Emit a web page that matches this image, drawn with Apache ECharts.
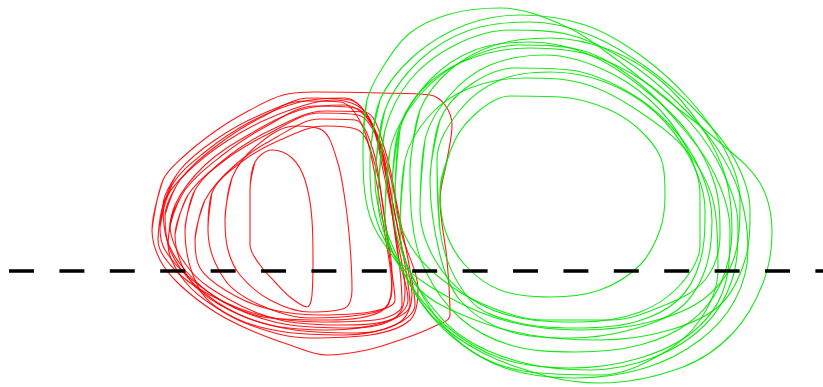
<!DOCTYPE html>
<html>
<head>
<meta charset="utf-8">
<script src="https://cdn.jsdelivr.net/npm/echarts@6/dist/echarts.min.js"></script>
<style>
html,body{margin:0;padding:0;background:#fff;}
#chart{width:823px;height:387px;}
</style>
</head>
<body>
<div id="chart"></div>
<script>
// Reference line (dashed)
const baseline = [[9, 271], [823, 271]];

// Red contours (x, y in picture units; y grows downward)
const redOuter = [[152,230],[163,180],[183,157],[217,130],[250,110],[283,95],[315,92],[380,93],[430,95],[445,105],[452,125],[447,160],[440,200],[447,260],[450,315],[433,327],[400,340],[367,350],[327,355],[290,345],[250,330],[215,312],[180,285],[160,260]];
const red1 = [[160,228],[172,185],[205,152],[250,122],[300,102],[345,98],[370,120],[383,170],[395,230],[405,290],[395,318],[350,328],[290,325],[235,308],[190,278],[165,250]];
const red2 = [[165,215],[180,180],[215,147],[260,118],[310,98],[350,100],[375,130],[388,180],[400,240],[412,295],[400,322],[355,333],[295,330],[240,315],[195,285],[170,250]];
const red3 = [[170,225],[185,190],[220,157],[265,127],[315,106],[355,108],[378,140],[390,200],[398,255],[408,300],[390,320],[340,325],[280,320],[230,300],[190,270]];
const red4 = [[158,240],[165,200],[195,165],[240,133],[290,110],[335,100],[365,112],[380,150],[392,210],[400,270],[402,305],[375,320],[320,322],[260,315],[210,295],[175,270]];
const red5 = [[175,235],[188,195],[225,160],[270,133],[320,113],[358,115],[380,145],[393,205],[405,265],[410,305],[385,322],[330,330],[270,325],[220,305],[190,280]];
const red6 = [[195,240],[205,200],[235,165],[275,138],[320,119],[355,120],[373,150],[382,200],[390,260],[395,300],[370,312],[320,315],[265,308],[225,290],[200,268]];
const red7 = [[185,230],[195,190],[230,155],[275,128],[325,111],[365,112],[385,150],[398,210],[410,270],[415,305],[395,325],[345,335],[285,332],[235,318],[200,290]];
const red8 = [[163,205],[180,170],[215,140],[260,115],[305,101],[340,102],[362,125],[375,175],[385,235],[392,290],[380,312],[330,320],[270,318],[220,300],[185,270],[167,240]];
const red9 = [[208,230],[212,193],[240,163],[280,140],[325,126],[358,130],[375,165],[385,220],[392,275],[388,305],[360,315],[310,318],[260,305],[225,280]];
const red10 = [[168,245],[175,205],[205,165],[250,134],[300,110],[345,105],[372,125],[390,175],[402,235],[418,290],[410,320],[370,335],[310,338],[250,325],[205,300],[180,275]];
const redInnerA = [[250,190],[255,162],[272,150],[292,158],[305,180],[312,220],[313,260],[312,295],[307,307],[290,297],[275,282],[260,265],[250,245]];
const redInnerB = [[225,220],[232,178],[255,147],[295,126],[322,130],[337,160],[345,200],[350,245],[352,290],[345,308],[310,312],[270,300],[240,275],[228,250]];

// Green contours
const greenInner = [[440,190],[455,140],[480,110],[510,96],[560,97],[610,110],[645,135],[663,165],[665,195],[660,230],[640,265],[600,290],[550,297],[500,290],[465,265],[445,230]];
const greenOuter = [[363,150],[367,100],[383,67],[410,33],[450,14],[500,8],[567,27],[617,60],[667,100],[717,140],[760,183],[772,233],[763,283],[733,333],[683,367],[600,383],[550,377],[483,353],[433,317],[400,267],[370,217]];
const green2 = [[375,180],[385,110],[420,60],[470,30],[530,22],[590,35],[650,70],[700,115],[735,160],[750,210],[745,260],[720,305],[670,330],[600,340],[530,335],[470,318],[420,290],[390,240]];
const green3 = [[395,200],[400,130],[430,80],[475,50],[530,42],[590,55],[645,90],[690,135],[715,185],[720,235],[705,280],[665,305],[610,320],[545,320],[485,305],[440,278],[410,245]];
const green4 = [[370,160],[380,100],[415,55],[465,25],[520,15],[585,25],[640,55],[690,100],[725,150],[740,200],[735,255],[705,298],[650,322],[580,330],[510,322],[450,298],[400,262],[375,215]];
const green5 = [[420,210],[425,140],[450,95],[490,65],[545,55],[600,68],[650,100],[685,145],[700,195],[700,245],[680,285],[640,312],[580,322],[520,318],[470,298],[435,260]];
const green6 = [[385,220],[390,150],[420,95],[465,60],[520,45],[580,50],[635,80],[680,125],[715,175],[730,230],[725,285],[695,330],[640,358],[570,368],[500,358],[445,325],[405,275]];
const green7 = [[400,230],[405,160],[430,115],[470,88],[525,78],[585,84],[640,112],[690,155],[715,210],[718,270],[700,320],[660,355],[600,375],[530,372],[470,350],[425,300]];
const green8 = [[430,180],[440,120],[470,85],[515,68],[570,70],[625,90],[670,125],[700,170],[712,220],[705,270],[680,308],[630,330],[570,338],[505,330],[460,300],[440,255]];
const green9 = [[378,200],[385,130],[410,80],[455,45],[510,30],[570,35],[625,60],[675,100],[715,145],[740,195],[748,250],[735,300],[700,340],[645,368],[575,378],[505,368],[450,335],[410,285]];
const green10 = [[410,170],[420,110],[450,70],[495,45],[550,38],[610,50],[660,80],[700,125],[725,175],[732,230],[720,285],[690,322],[640,345],[575,352],[510,345],[460,318],[425,270],[412,220]];
const green11 = [[392,190],[400,125],[430,82],[475,57],[530,48],[590,55],[645,82],[690,122],[722,170],[738,225],[732,280],[705,325],[655,357],[590,370],[520,362],[460,335],[420,290],[398,240]];
const green12 = [[440,230],[437,160],[460,110],[500,80],[550,72],[605,82],[655,112],[690,158],[705,210],[700,262],[678,300],[635,322],[575,328],[515,322],[470,300]];

const redLoops = [redOuter, red1, red2, red3, red4, red5, red6, red7, red8, red9, red10, redInnerA, redInnerB];
const greenLoops = [greenInner, greenOuter, green2, green3, green4, green5, green6, green7, green8, green9, green10, green11, green12];

function loopSeries(pts, color) {
  return {
    type: 'line',
    data: pts.concat([pts[0], pts[1]]),
    smooth: 0.35,
    showSymbol: false,
    symbol: 'none',
    silent: true,
    lineStyle: { color: color, width: 1.1, opacity: 0.9 },
    z: 2
  };
}

const series = [];
redLoops.forEach(p => series.push(loopSeries(p, '#ff0000')));
greenLoops.forEach(p => series.push(loopSeries(p, '#00e600')));
series.push({
  type: 'line',
  data: baseline,
  showSymbol: false,
  symbol: 'none',
  silent: true,
  lineStyle: { color: '#000', width: 3.5, type: [25, 25.4] },
  z: 5
});

const chart = echarts.init(document.getElementById('chart'), null, { renderer: 'canvas' });
chart.setOption({
  animation: false,
  backgroundColor: '#fff',
  grid: { left: 0, right: 0, top: 0, bottom: 0 },
  xAxis: { type: 'value', min: 0, max: 823, show: false },
  yAxis: { type: 'value', min: 0, max: 387, inverse: true, show: false },
  series: series
});
</script>
</body>
</html>
